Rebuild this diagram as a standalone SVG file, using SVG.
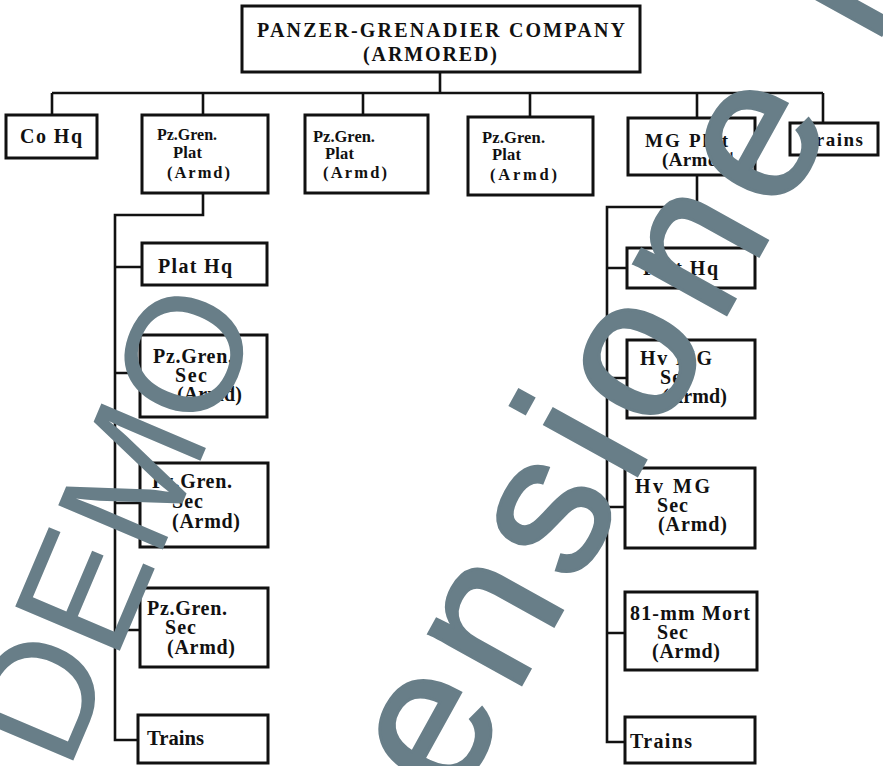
<svg xmlns="http://www.w3.org/2000/svg" width="883" height="766" viewBox="0 0 883 766">
<style>
.box{fill:#fff;stroke:#111;stroke-width:3}
.con{fill:none;stroke:#111;stroke-width:2.6;stroke-linejoin:miter}
text.t{font-family:"Liberation Serif","Times New Roman",serif;font-weight:bold;fill:#111}
.s16{font-size:16.5px}
.s19{font-size:19px}
.s20{font-size:20px}
.wm{font-family:"Liberation Sans",Arial,sans-serif;fill:#687e88}
</style>
<rect width="883" height="766" fill="#fff"/>
<g id="connectors">
<path class="con" d="M440,72 V93 M52,93 H823 M52,93 V115 M203,93 V115 M363,93 V115 M530,93 V117 M697,93 V118 M823,93 V123"/>
<path class="con" d="M203,193 V215 H115 V740 H138 M115,267 H142 M115,373 H140 M115,503 H140 M115,630 H140"/>
<path class="con" d="M697,175 V207 H607 V742 H625 M607,268 H627 M607,378 H627 M607,507 H625 M607,633 H625"/>
</g>
<g id="company">
<rect class="box" x="242" y="6" width="398" height="66"/>
<text class="t s20" x="257" y="37" textLength="368" lengthAdjust="spacing">PANZER-GRENADIER COMPANY</text>
<text class="t s20" x="363" y="61" textLength="134" lengthAdjust="spacing">(ARMORED)</text>
</g>
<g id="co-hq">
<rect class="box" x="6" y="115" width="91" height="43"/>
<text class="t s20" x="20" y="143" textLength="62" lengthAdjust="spacing">Co Hq</text>
</g>
<g id="plat1">
<rect class="box" x="142" y="115" width="126" height="78"/>
<text class="t s16" x="157" y="140" textLength="60" lengthAdjust="spacingAndGlyphs">Pz.Gren.</text>
<text class="t s16" x="173" y="158" textLength="29" lengthAdjust="spacing">Plat</text>
<text class="t s16" x="167" y="178" textLength="63" lengthAdjust="spacing">(Armd)</text>
</g>
<g id="plat2">
<rect class="box" x="305" y="115" width="123" height="78"/>
<text class="t s16" x="313" y="142" textLength="62" lengthAdjust="spacingAndGlyphs">Pz.Gren.</text>
<text class="t s16" x="325" y="159" textLength="29" lengthAdjust="spacing">Plat</text>
<text class="t s16" x="323" y="178" textLength="64" lengthAdjust="spacing">(Armd)</text>
</g>
<g id="plat3">
<rect class="box" x="468" y="117" width="125" height="78"/>
<text class="t s16" x="482" y="143" textLength="63" lengthAdjust="spacing">Pz.Gren.</text>
<text class="t s16" x="492" y="160" textLength="29" lengthAdjust="spacing">Plat</text>
<text class="t s16" x="490" y="180" textLength="67" lengthAdjust="spacing">(Armd)</text>
</g>
<g id="mg-plat">
<rect class="box" x="628" y="118" width="127" height="57"/>
<text class="t s19" x="645" y="147" textLength="83" lengthAdjust="spacing">MG Plat</text>
<text class="t s19" x="662" y="166" textLength="63" lengthAdjust="spacing">(Armd)</text>
<text class="t" x="729" y="159" style="font-size:10px">1</text>
</g>
<g id="co-trains">
<rect class="box" x="790" y="123" width="88" height="32"/>
<text class="t s19" x="803" y="146" textLength="60" lengthAdjust="spacing">Trains</text>
</g>
<g id="l-plat-hq">
<rect class="box" x="142" y="243" width="125" height="42"/>
<text class="t s20" x="158" y="273" textLength="74" lengthAdjust="spacing">Plat Hq</text>
</g>
<g id="l-sec1">
<rect class="box" x="140" y="335" width="127" height="82"/>
<text class="t s20" x="153" y="363" textLength="80" lengthAdjust="spacing">Pz.Gren.</text>
<text class="t s20" x="175" y="382" textLength="32" lengthAdjust="spacing">Sec</text>
<text class="t s20" x="177" y="401" textLength="65" lengthAdjust="spacing">(Armd)</text>
</g>
<g id="l-sec2">
<rect class="box" x="140" y="463" width="128" height="84"/>
<text class="t s20" x="152" y="488" textLength="80" lengthAdjust="spacing">Pz.Gren.</text>
<text class="t s20" x="172" y="508" textLength="31" lengthAdjust="spacing">Sec</text>
<text class="t s20" x="172" y="528" textLength="68" lengthAdjust="spacing">(Armd)</text>
</g>
<g id="l-sec3">
<rect class="box" x="140" y="588" width="128" height="79"/>
<text class="t s20" x="147" y="615" textLength="80" lengthAdjust="spacing">Pz.Gren.</text>
<text class="t s20" x="165" y="634" textLength="31" lengthAdjust="spacing">Sec</text>
<text class="t s20" x="167" y="654" textLength="68" lengthAdjust="spacing">(Armd)</text>
</g>
<g id="l-trains">
<rect class="box" x="138" y="715" width="130" height="48"/>
<text class="t s20" x="147" y="745" textLength="57" lengthAdjust="spacingAndGlyphs">Trains</text>
</g>
<g id="r-plat-hq">
<rect class="box" x="627" y="248" width="128" height="40"/>
<text class="t s20" x="643" y="275" textLength="75" lengthAdjust="spacing">Plat Hq</text>
</g>
<g id="r-hvmg1">
<rect class="box" x="627" y="340" width="128" height="78"/>
<text class="t s20" x="640" y="365" textLength="72" lengthAdjust="spacing">Hv MG</text>
<text class="t s20" x="660" y="384" textLength="31" lengthAdjust="spacing">Sec</text>
<text class="t s20" x="662" y="403" textLength="65" lengthAdjust="spacing">(Armd)</text>
</g>
<g id="r-hvmg2">
<rect class="box" x="625" y="468" width="130" height="80"/>
<text class="t s20" x="635" y="493" textLength="75" lengthAdjust="spacing">Hv MG</text>
<text class="t s20" x="657" y="512" textLength="31" lengthAdjust="spacing">Sec</text>
<text class="t s20" x="658" y="531" textLength="69" lengthAdjust="spacing">(Armd)</text>
</g>
<g id="r-mort">
<rect class="box" x="625" y="592" width="132" height="78"/>
<text class="t s20" x="630" y="620" textLength="120" lengthAdjust="spacing">81-mm Mort</text>
<text class="t s20" x="657" y="639" textLength="31" lengthAdjust="spacing">Sec</text>
<text class="t s20" x="652" y="658" textLength="68" lengthAdjust="spacing">(Armd)</text>
</g>
<g id="r-trains">
<rect class="box" x="625" y="717" width="130" height="46"/>
<text class="t s20" x="630" y="748" textLength="62" lengthAdjust="spacing">Trains</text>
</g>
<g id="watermark">
<text class="wm" transform="translate(68,773) rotate(-67)" font-size="165">DEMO</text>
<text class="wm" transform="translate(454,806) rotate(-61)" font-size="200" letter-spacing="14" stroke="#687e88" stroke-width="3">ensione id</text>
</g>
</svg>
